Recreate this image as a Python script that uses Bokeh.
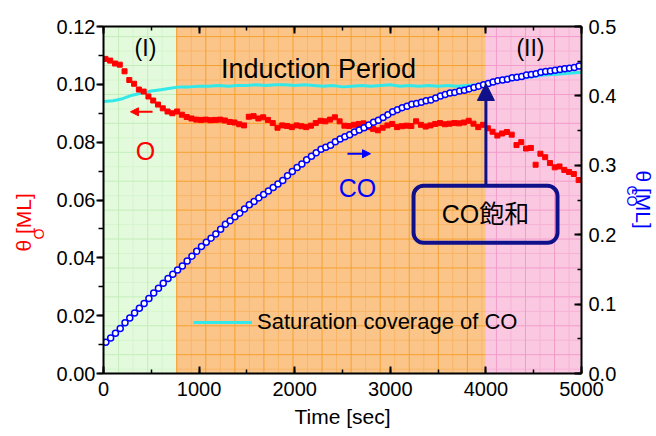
from bokeh.plotting import figure
from bokeh.models import (Range1d, LinearAxis, SingleIntervalTicker, PrintfTickFormatter,
                          CustomJSTickFormatter, Label, Arrow, NormalHead, BoxAnnotation,
                          Legend, LegendItem, Title)
from bokeh.embed import file_html
from bokeh.resources import INLINE

# ---------------- data ----------------
o_time = list(range(20, 5000, 50))
o_cov = [0.1088, 0.1082, 0.1072, 0.1068, 0.1045, 0.1015, 0.1002, 0.0982, 0.0975, 0.0958,
         0.0944, 0.0930, 0.0917, 0.0906, 0.0900, 0.0906, 0.0895, 0.0887, 0.0882, 0.0878,
         0.0877, 0.0878, 0.0876, 0.0877, 0.0878, 0.0875, 0.0870, 0.0868, 0.0862, 0.0858,
         0.0888, 0.0890, 0.0882, 0.0886, 0.0877, 0.0866, 0.0850, 0.0858, 0.0856, 0.0852,
         0.0858, 0.0855, 0.0852, 0.0857, 0.0866, 0.0874, 0.0872, 0.0878, 0.0886, 0.0872,
         0.0857, 0.0856, 0.0860, 0.0863, 0.0865, 0.0852, 0.0846, 0.0841, 0.0850, 0.0858,
         0.0863, 0.0852, 0.0855, 0.0857, 0.0856, 0.0872, 0.0860, 0.0854, 0.0858, 0.0863,
         0.0866, 0.0862, 0.0864, 0.0866, 0.0865, 0.0868, 0.0874, 0.0864, 0.0852, 0.0860,
         0.0848, 0.0836, 0.0823, 0.0830, 0.0835, 0.0826, 0.0790, 0.0800, 0.0778, 0.0780,
         0.0722, 0.0760, 0.0748, 0.0728, 0.0713, 0.0716, 0.0704, 0.0697, 0.0690, 0.0669]

co_time = list(range(25, 5000, 50))
co_cov = [0.045, 0.051, 0.058, 0.065, 0.073, 0.080, 0.087, 0.094, 0.101, 0.108,
          0.116, 0.123, 0.130, 0.137, 0.143, 0.149, 0.155, 0.162, 0.169, 0.176,
          0.183, 0.189, 0.195, 0.201, 0.208, 0.215, 0.220, 0.226, 0.231, 0.237,
          0.243, 0.248, 0.253, 0.258, 0.263, 0.268, 0.273, 0.278, 0.285, 0.291,
          0.297, 0.302, 0.308, 0.313, 0.318, 0.323, 0.326, 0.329, 0.334, 0.338,
          0.341, 0.344, 0.348, 0.351, 0.354, 0.358, 0.362, 0.365, 0.369, 0.373,
          0.377, 0.380, 0.383, 0.385, 0.388, 0.389, 0.391, 0.393, 0.394, 0.397,
          0.400, 0.402, 0.404, 0.405, 0.407, 0.408, 0.410, 0.412, 0.414, 0.416,
          0.418, 0.420, 0.422, 0.423, 0.424, 0.426, 0.427, 0.428, 0.430, 0.431,
          0.432, 0.434, 0.435, 0.436, 0.437, 0.438, 0.439, 0.440, 0.441, 0.443]

sat_time = list(range(0, 5001, 100))
sat_cov = [0.392, 0.393, 0.396, 0.401, 0.404, 0.407, 0.409, 0.411, 0.413, 0.413,
           0.414, 0.414, 0.415, 0.414, 0.415, 0.415, 0.416, 0.415, 0.416, 0.416,
           0.415, 0.416, 0.415, 0.414, 0.415, 0.413, 0.414, 0.415, 0.414, 0.415,
           0.416, 0.414, 0.415, 0.414, 0.415, 0.414, 0.415, 0.414, 0.415, 0.416,
           0.418, 0.420, 0.422, 0.424, 0.426, 0.428, 0.430, 0.431, 0.432, 0.433, 0.434]

region_edges = [0, 760, 4000, 5000]
region_names = ["(I)", "Induction Period", "(II)"]
saturation_time = 4000

# ---------------- style ----------------
FONT = "Liberation Sans"
FONT_CJK = "Liberation Sans, Noto Sans CJK JP"
NAVY = "#10108A"
RED = "#FF0000"
BLUE = "#0000FF"
CYAN = "#33E8E8"

p = figure(width=656, height=436, output_backend="svg", toolbar_location=None,
           x_range=Range1d(0, 5000), y_range=Range1d(0, 0.12),
           min_border_left=103, min_border_right=75, min_border_top=26, min_border_bottom=63)
p.extra_y_ranges = {"right": Range1d(0, 0.5)}
p.xgrid.visible = False
p.ygrid.visible = False
p.outline_line_color = None
p.background_fill_color = "white"

# region backgrounds with graph-paper texture
region_styles = [("#E3FADC", "#C4EEBA", "#D6F5CF"),
                 ("#FBC58A", "#F5A02E", "#F8B565"),
                 ("#FAC8E1", "#F29CC9", "#F6B3D6")]
for x0, x1, (fill, dark, light) in zip(region_edges[:-1], region_edges[1:], region_styles):
    p.quad(left=x0, right=x1, bottom=0, top=0.12, fill_color=fill, line_color=None)
    vx_light = [6 + 304 * k for k in range(-1, 18) if x0 < 6 + 304 * k < x1]
    vx_dark = [158 + 304 * k for k in range(-1, 18) if x0 < 158 + 304 * k < x1]
    hy_light = [0.0015 + 0.01 * k for k in range(12)]
    hy_dark = [0.0065 + 0.01 * k for k in range(12)]
    p.segment(x0=vx_light, y0=[0] * len(vx_light), x1=vx_light, y1=[0.12] * len(vx_light),
              line_color=light, line_width=1)
    p.segment(x0=[x0] * len(hy_light), y0=hy_light, x1=[x1] * len(hy_light), y1=hy_light,
              line_color=light, line_width=1)
    p.segment(x0=vx_dark, y0=[0] * len(vx_dark), x1=vx_dark, y1=[0.12] * len(vx_dark),
              line_color=dark, line_width=1)
    p.segment(x0=[x0] * len(hy_dark), y0=hy_dark, x1=[x1] * len(hy_dark), y1=hy_dark,
              line_color=dark, line_width=1)

# data glyphs
sat_r = p.line(sat_time, sat_cov, y_range_name="right", line_color=CYAN, line_width=3)
p.scatter(o_time, o_cov, marker="square", size=5, fill_color=RED, line_color=RED)
p.scatter(co_time, co_cov, y_range_name="right", marker="circle", size=6,
          fill_color="white", line_color=BLUE, line_width=1.5)

# axes
bottom = p.below[0]
left = p.left[0]
right = LinearAxis(y_range_name="right")
p.add_layout(right, "right")
top = LinearAxis()
p.add_layout(top, "above")

bottom.ticker = SingleIntervalTicker(interval=1000, num_minor_ticks=2)
top.ticker = SingleIntervalTicker(interval=1000, num_minor_ticks=2)
left.ticker = SingleIntervalTicker(interval=0.02, num_minor_ticks=2)
right.ticker = SingleIntervalTicker(interval=0.1, num_minor_ticks=2)
bottom.formatter = PrintfTickFormatter(format="%d")
left.formatter = PrintfTickFormatter(format="%.2f")
right.formatter = PrintfTickFormatter(format="%.1f")
top.formatter = CustomJSTickFormatter(code="return ''")

for ax in [bottom, left, right, top]:
    ax.axis_line_width = 2
    ax.axis_line_color = "black"
    ax.major_tick_line_width = 2
    ax.minor_tick_line_width = 1.5
    ax.major_tick_in = 7
    ax.major_tick_out = 0
    ax.minor_tick_in = 4
    ax.minor_tick_out = 0
    ax.major_label_text_font = FONT
    ax.major_label_text_font_size = "20px"
    ax.major_label_text_color = "black"
    ax.major_label_standoff = 7
# left axis ticks point outward
left.major_tick_in = 0
left.major_tick_out = 7
left.minor_tick_in = 0
left.minor_tick_out = 5
left.major_label_standoff = 1
bottom.major_label_standoff = 8
top.major_label_standoff = 0

# x axis title
bottom.axis_label = "Time [sec]"
bottom.axis_label_text_font = FONT
bottom.axis_label_text_font_size = "21px"
bottom.axis_label_text_font_style = "normal"
bottom.axis_label_text_color = "black"
bottom.axis_label_standoff = 6


def side_title(text, side, size, color, offset, standoff):
    t = Title(text=text, align="left", vertical_align="middle", offset=offset,
              standoff=standoff, text_font=FONT, text_font_size=f"{size}px",
              text_font_style="normal", text_color=color)
    p.add_layout(t, side)


# left axis title: theta_O [ML]  (subscript column first, nearest to the axis)
side_title("O", "left", 14, RED, 134, 12.4)
side_title("θ   [ML]", "left", 21, RED, 122, -30)
# right axis title: theta_CO [ML]
side_title("CO", "right", 14, BLUE, 159, 6.4)
side_title("θ    [ML]", "right", 21, BLUE, 144, -30)


def lab(text, x, y, size, color="black", align="center", baseline="middle",
        angle=0.0, font=FONT):
    p.add_layout(Label(x=x, y=y, text=text, text_font=font,
                       text_font_size=f"{size}px", text_color=color,
                       text_align=align, text_baseline=baseline, angle=angle))


# region titles
lab(region_names[0], 439, 0.1126, 23)
lab(region_names[1], 2249, 0.1054, 27)
lab(region_names[2], 4466, 0.1126, 23)

# species labels and direction arrows
lab("O", 439, 0.0771, 25, color=RED)
lab("CO", 2657, 0.0643, 25, color=BLUE)
p.add_layout(Arrow(end=NormalHead(size=8, fill_color=RED, line_color=RED),
                   x_start=513, y_start=0.0905, x_end=282, y_end=0.0905,
                   line_color=RED, line_width=2))
p.add_layout(Arrow(end=NormalHead(size=8, fill_color=BLUE, line_color=BLUE),
                   x_start=2552, y_start=0.0760, x_end=2793, y_end=0.0760,
                   line_color=BLUE, line_width=2))

# callout box
p.add_layout(BoxAnnotation(left=3243, right=4749, bottom=0.0452, top=0.0649,
                           fill_alpha=0, line_color=NAVY, line_alpha=1, line_width=4,
                           border_radius=10))
lab("CO飽和", 3996, 0.0553, 25, font=FONT_CJK)
p.add_layout(Arrow(end=NormalHead(size=17, fill_color=NAVY, line_color=NAVY),
                   x_start=saturation_time, y_start=0.0649,
                   x_end=saturation_time, y_end=0.1003,
                   line_color=NAVY, line_width=3))

# legend
legend = Legend(items=[LegendItem(label="Saturation coverage of CO", renderers=[sat_r])],
                location=(90, 38), padding=0, margin=0, spacing=0,
                glyph_width=59, glyph_height=20, label_height=20, label_standoff=5,
                label_text_font=FONT, label_text_font_size="22px",
                label_text_color="black",
                border_line_alpha=0, background_fill_alpha=0)
p.add_layout(legend)

open("out.html", "w", encoding="utf-8").write(file_html(p, INLINE))
